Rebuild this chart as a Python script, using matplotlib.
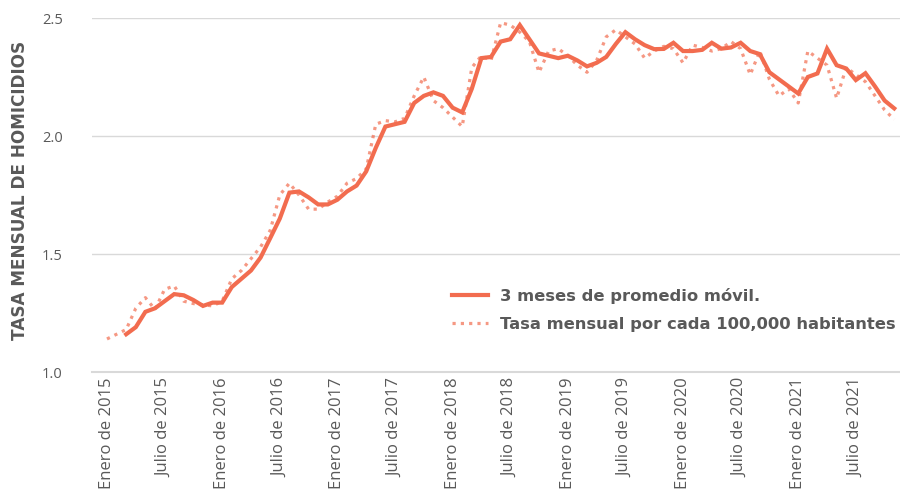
import numpy as np
import matplotlib
matplotlib.use("Agg")
import matplotlib.pyplot as plt

# monthly rate, Jan 2015 - Nov 2021
tasa_mensual = [
    1.14, 1.16, 1.18, 1.27, 1.315, 1.265, 1.35, 1.365, 1.30, 1.29, 1.285, 1.28,
    1.30, 1.395, 1.43, 1.48, 1.53, 1.60, 1.75, 1.80, 1.75, 1.69, 1.69, 1.72,
    1.745, 1.80, 1.82, 1.86, 2.05, 2.065, 2.06, 2.075, 2.17, 2.25, 2.15, 2.12,
    2.08, 2.04, 2.29, 2.34, 2.32, 2.48, 2.47, 2.44, 2.40, 2.27, 2.36, 2.37,
    2.34, 2.30, 2.27, 2.32, 2.42, 2.45, 2.42, 2.39, 2.33, 2.36, 2.38, 2.37,
    2.31, 2.385, 2.375, 2.36, 2.37, 2.40, 2.37, 2.26, 2.36, 2.24, 2.17, 2.20,
    2.14, 2.36, 2.33, 2.30, 2.16, 2.29, 2.26, 2.23, 2.17, 2.11, 2.07,
]

# 3-month moving average (first two months empty)
promedio_movil = [
    None, None, 1.16, 1.19, 1.255, 1.27, 1.30, 1.33, 1.325, 1.305, 1.28, 1.294,
    1.294, 1.36, 1.395, 1.43, 1.485, 1.567, 1.65, 1.76, 1.765, 1.74, 1.71, 1.71,
    1.73, 1.765, 1.79, 1.85, 1.95, 2.04, 2.05, 2.06, 2.14, 2.17, 2.185, 2.17,
    2.12, 2.10, 2.20, 2.33, 2.335, 2.40, 2.41, 2.47, 2.41, 2.35, 2.34, 2.33,
    2.34, 2.32, 2.295, 2.31, 2.335, 2.39, 2.44, 2.41, 2.385, 2.368, 2.369, 2.395,
    2.36, 2.36, 2.365, 2.395, 2.37, 2.375, 2.395, 2.36, 2.347, 2.27, 2.24, 2.21,
    2.18, 2.25, 2.265, 2.37, 2.30, 2.286, 2.237, 2.266, 2.21, 2.15, 2.117,
]

etiquetas = [
    "Enero de 2015", "Julio de 2015", "Enero de 2016", "Julio de 2016",
    "Enero de 2017", "Julio de 2017", "Enero de 2018", "Julio de 2018",
    "Enero de 2019", "Julio de 2019", "Enero de 2020", "Julio de 2020",
    "Enero de 2021", "Julio de 2021",
]

x = np.arange(len(tasa_mensual))
ma = np.array([np.nan if v is None else v for v in promedio_movil])

color = "#F26C4F"
gris = "#595959"

fig = plt.figure(figsize=(9, 5.03), dpi=100)
ax = fig.add_axes([92 / 900, 1 - 372 / 503, 808 / 900, 354 / 503])

ax.plot(x, ma, color=color, lw=3, solid_joinstyle="miter",
        label="3 meses de promedio móvil.")
ax.plot(x, tasa_mensual, color=color, lw=2.3, alpha=0.7,
        linestyle=(0, (1, 1.6)), dash_capstyle="butt",
        label="Tasa mensual por cada 100,000 habitantes")

ax.set_xlim(-1.56, 82.6)
ax.set_ylim(1.0, 2.5)
ax.set_yticks([1.0, 1.5, 2.0, 2.5])
ax.set_yticklabels(["1.0", "1.5", "2.0", "2.5"])
ax.set_xticks(np.arange(0, 6 * len(etiquetas), 6))
ax.set_xticklabels(etiquetas, rotation=90, va="top", ha="center")

ax.grid(axis="y", color="#D9D9D9", lw=1)
ax.set_axisbelow(True)
for s in ["top", "right", "left"]:
    ax.spines[s].set_visible(False)
ax.spines["bottom"].set_color("#D9D9D9")
ax.spines["bottom"].set_linewidth(1.5)

ax.tick_params(axis="both", length=0, colors=gris)
ax.tick_params(axis="x", pad=4, labelsize=12)
ax.tick_params(axis="y", pad=21, labelsize=10.5)
for t in ax.get_xticklabels() + ax.get_yticklabels():
    t.set_fontfamily("Open Sans")

fig.text(20 / 900, 1 - 190 / 503, "TASA MENSUAL DE HOMICIDIOS", rotation=90,
         ha="center", va="center", color=gris, fontsize=12.2, fontweight="bold",
         family="DejaVu Sans")

leg = ax.legend(loc="center left", bbox_to_anchor=((452 - 92) / 808, (372 - 310) / 354),
                frameon=False, borderpad=0, borderaxespad=0, handlelength=2.2,
                handletextpad=0.7, labelspacing=0.8,
                prop={"family": "DejaVu Sans", "weight": "bold", "size": 11.8})
for t in leg.get_texts():
    t.set_color(gris)

fig.savefig("out.png", dpi=100)
